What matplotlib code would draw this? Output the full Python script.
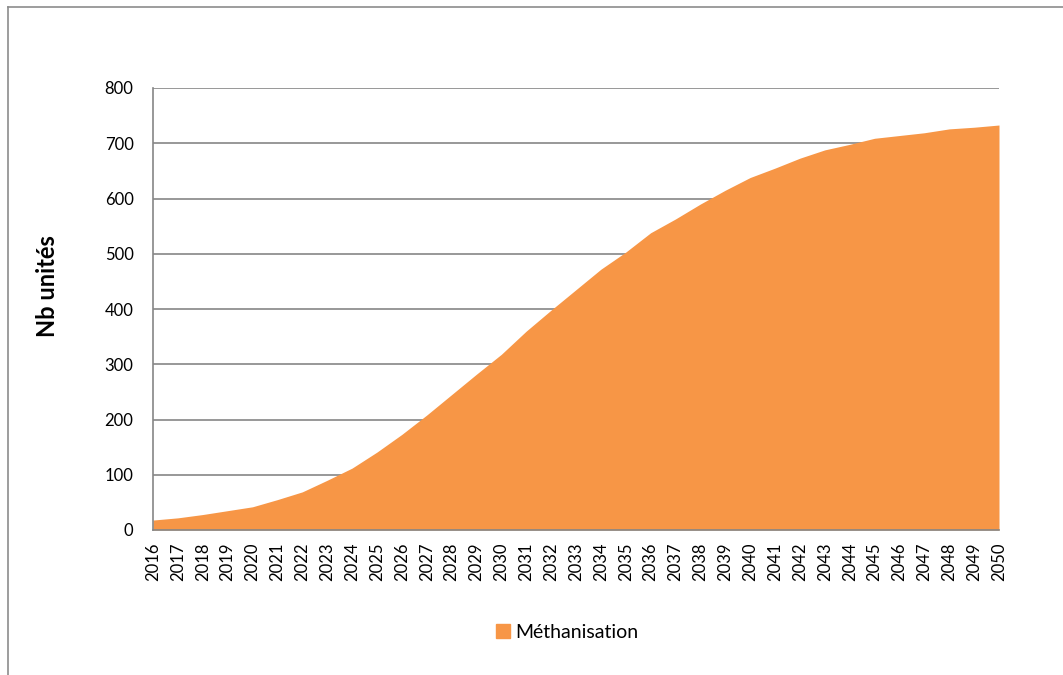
import matplotlib.pyplot as plt
from matplotlib.lines import Line2D

# data
years = list(range(2016, 2051))
units = [18, 22, 28, 35, 42, 55, 69, 90, 112, 141, 173, 208, 245, 282, 318,
         360, 398, 435, 472, 503, 538, 563, 590, 615, 638, 655, 673, 688, 698,
         709, 714, 719, 726, 729, 733]
series_name = "Méthanisation"
y_label = "Nb unités"

orange = "#F79646"
grid_grey = "#868686"

plt.rcParams['font.family'] = ['Lato', 'DejaVu Sans']

fig = plt.figure(figsize=(10.63, 6.75), dpi=100)
ax = fig.add_axes([153 / 1063, 1 - 530 / 675, 846 / 1063, 442 / 675])

ax.fill_between(years, units, 0, color=orange, linewidth=0, zorder=2)

ax.set_xlim(years[0], years[-1])
ax.set_ylim(0, 800)
ax.set_yticks(range(0, 801, 100))
ax.set_xticks(years)
ax.set_xticklabels([str(y) for y in years], rotation=90)
ax.tick_params(axis='both', length=0, labelsize=12, colors='black')
ax.tick_params(axis='x', pad=9)
ax.tick_params(axis='y', pad=14)

ax.grid(axis='y', color=grid_grey, linewidth=1.2, zorder=1)
ax.set_axisbelow(True)
for side in ['top', 'right']:
    ax.spines[side].set_visible(False)
for side in ['left', 'bottom']:
    ax.spines[side].set_color(grid_grey)
    ax.spines[side].set_linewidth(1.2)
ax.spines['bottom'].set_zorder(3)

ax.set_ylabel(y_label, fontsize=17, fontweight='bold')
ax.yaxis.set_label_coords(-94 / 846, (530 - 286) / 442)

handle = Line2D([], [], marker='s', linestyle='none', markersize=10,
                markerfacecolor=orange, markeredgecolor=orange)
fig.legend([handle], [series_name], loc='center', bbox_to_anchor=(567 / 1063, 1 - 632 / 675),
           frameon=False, fontsize=14, handlelength=0.8, handletextpad=0.25, borderpad=0)

# outer chart-area border (only left/top edges visible in the reference)
fig.add_artist(Line2D([8 / 1063, 8 / 1063], [0, 1 - 7 / 675], transform=fig.transFigure,
                      color='#8c8c8c', linewidth=1.2))
fig.add_artist(Line2D([8 / 1063, 1], [1 - 7 / 675, 1 - 7 / 675], transform=fig.transFigure,
                      color='#8c8c8c', linewidth=1.2))

fig.savefig('out.png', dpi=100)
